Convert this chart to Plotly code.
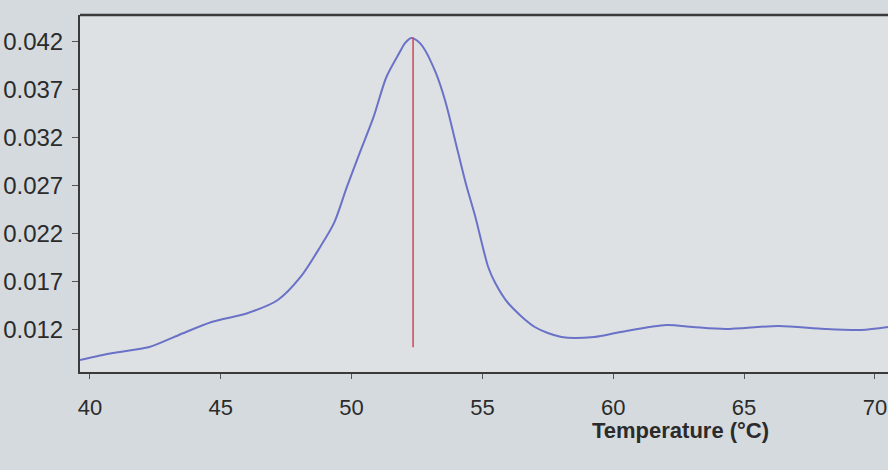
import plotly.graph_objects as go

# Melt curve (derivative)
temperature = [39.62, 40.87, 42.27, 43.40, 44.65, 46.04, 47.18, 48.05, 48.80, 49.33,
               49.82, 50.31, 50.84, 51.33, 51.82, 52.05, 52.28, 52.50, 52.73, 53.22, 53.60, 53.98,
               54.36, 54.73, 55.22, 55.49, 55.98, 57.00, 58.02, 59.27, 60.29, 62.03,
               63.04, 64.29, 66.33, 68.07, 69.47, 70.50]
derivative = [0.00887, 0.0096, 0.01023, 0.01148, 0.01283, 0.01377, 0.01512, 0.01752, 0.02065, 0.02315,
              0.0269, 0.03044, 0.03419, 0.03835, 0.04085, 0.0419, 0.04242, 0.04215, 0.04148, 0.03877, 0.03565, 0.03148,
              0.02731, 0.02377, 0.01856, 0.0169, 0.01481, 0.01231, 0.01127, 0.01127, 0.01179, 0.01252,
              0.01231, 0.0121, 0.01242, 0.0121, 0.012, 0.01231]

peak_temp = [52.35, 52.35]
peak_span = [0.0102, 0.0425]

x_ticks = [40, 45, 50, 55, 60, 65, 70]
y_ticks = [0.012, 0.017, 0.022, 0.027, 0.032, 0.037, 0.042]
y_tick_text = ["0.012", "0.017", "0.022", "0.027", "0.032", "0.037", "0.042"]

fig = go.Figure()
fig.add_trace(go.Scatter(x=temperature, y=derivative, mode="lines",
                         line=dict(color="#6a72c8", width=2, shape="spline", smoothing=0.8),
                         hoverinfo="skip", showlegend=False))
fig.add_trace(go.Scatter(x=peak_temp, y=peak_span, mode="lines",
                         line=dict(color="#d2505e", width=1.6),
                         hoverinfo="skip", showlegend=False))

font_family = "Liberation Sans Narrow, Arial Narrow, Liberation Sans, Arial, sans-serif"

fig.update_layout(
    width=888, height=470,
    margin=dict(l=80, r=0, t=15, b=98),
    paper_bgcolor="#d5dadf",
    plot_bgcolor="#dee1e3",
    font=dict(family=font_family, size=20, color="#2b2b2b"),
    xaxis=dict(range=[39.62, 70.5], tickvals=x_ticks, showgrid=False, zeroline=False,
               automargin=False, ticklabeloverflow="allow",
               showline=True, linecolor="#3a3a3a", linewidth=2, mirror=False,
               ticks="outside", ticklen=5, tickcolor="#555", ticklabelstandoff=10,
               tickfont=dict(size=22)),
    yaxis=dict(range=[0.00762, 0.04481], tickvals=y_ticks, ticktext=y_tick_text,
               showgrid=False, zeroline=False, automargin=False, ticklabeloverflow="allow",
               showline=True, linecolor="#3a3a3a", linewidth=2,
               ticks="outside", ticklen=6, tickcolor="#555", ticklabelstandoff=4,
               tickfont=dict(size=24)),
    shapes=[dict(type="line", xref="paper", yref="paper", x0=0, x1=1, y0=1, y1=1,
                 line=dict(color="#3a3a3a", width=2.5))],
    annotations=[dict(text="<b>Temperature (°C)</b>", xref="paper", yref="paper",
                      x=0.743, y=-0.165, xanchor="center", yanchor="middle",
                      showarrow=False, font=dict(size=22, color="#2b2b2b"))],
)

fig.write_html("out.html", config={"displayModeBar": False},
               post_script="document.body.style.margin='0';document.body.style.background='#d5dadf';")
